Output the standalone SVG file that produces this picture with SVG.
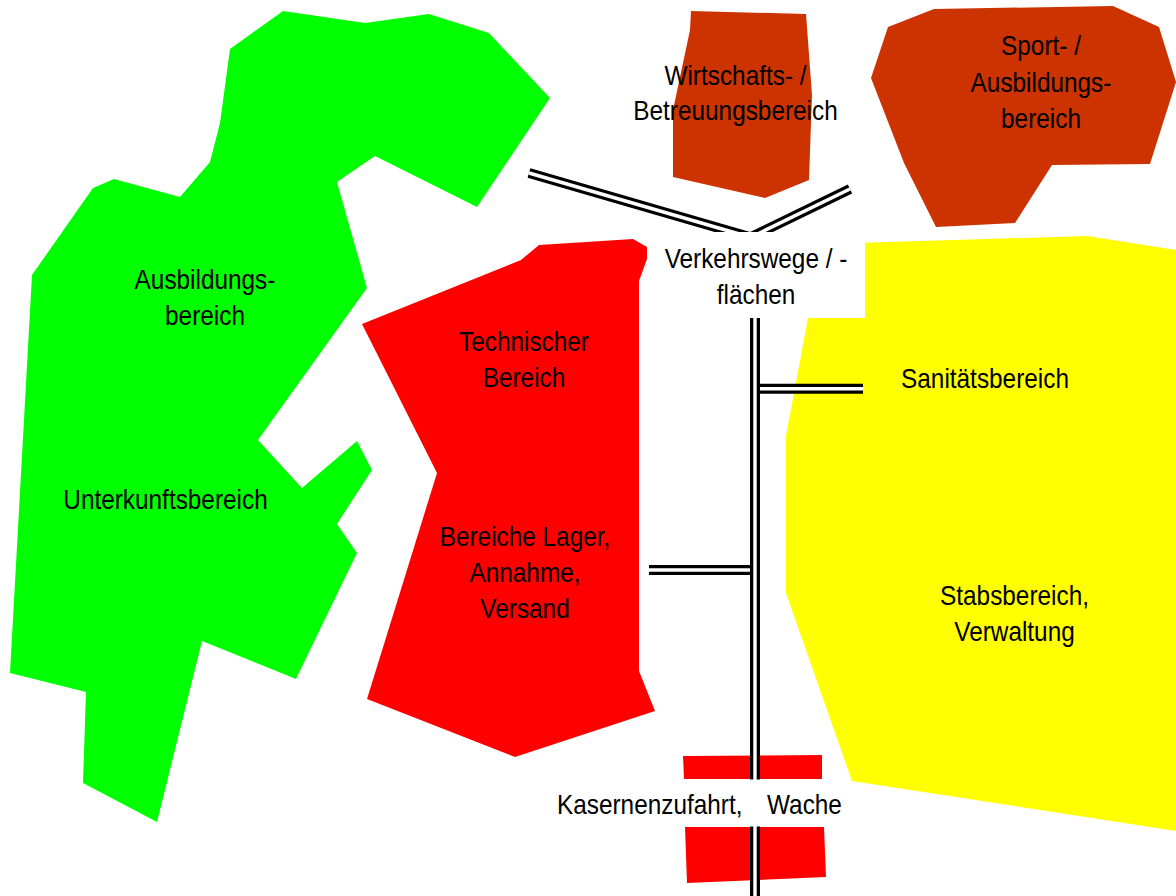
<svg xmlns="http://www.w3.org/2000/svg" width="1176" height="896" viewBox="0 0 1176 896">
<style>
  .lbl { font-family: "Liberation Sans", Arial, sans-serif; font-size: 28px; fill: #000; text-anchor: middle; }
  .lbls { font-family: "Liberation Sans", Arial, sans-serif; font-size: 28px; fill: #000; }
  .green { fill: #00FF00; }
  .red { fill: #FF0000; }
  .brown { fill: #CC3300; }
  .yellow { fill: #FFFF00; }
  .roadOuter { stroke: #000; stroke-width: 10; fill: none; stroke-linecap: butt; }
  .roadInner { stroke: #fff; stroke-width: 3.4; fill: none; stroke-linecap: butt; }
  .box { fill: #fff; }
</style>
<rect width="1176" height="896" fill="#fff"/>

<g id="unterkunft-ausbildung">
  <polygon class="green" points="283,11 365,23 429,14 489,33 550,98 477,207 375,156 337,182 367,288 258,440 302,488 357,441 372,470 337,524 357,553 296,679 202,641 157,822 83,783 86,692 10,673 32,275 93,188 114,179 180,197 210,162 220,123 230,49"/>
  <text class="lbl" transform="matrix(0.87,0,0,1,205,0)"><tspan x="0" y="289">Ausbildungs-</tspan><tspan x="0" y="325">bereich</tspan></text>
  <text class="lbl" transform="matrix(0.87,0,0,1,165.5,0)"><tspan x="0" y="509">Unterkunftsbereich</tspan></text>
</g>

<g id="technischer-bereich">
  <polygon class="red" points="539,245 633,239 647,247 647,259 639,281 639,671 655,711 515,757 367,699 437,473 362,324 521,260"/>
  <text class="lbl" transform="matrix(0.87,0,0,1,524,0)"><tspan x="0" y="351">Technischer</tspan><tspan x="0" y="387">Bereich</tspan></text>
  <text class="lbl" transform="matrix(0.87,0,0,1,525,0)"><tspan x="0" y="546">Bereiche Lager,</tspan><tspan x="0" y="582">Annahme,</tspan><tspan x="0" y="618">Versand</tspan></text>
</g>

<g id="wirtschaftsbereich">
  <polygon class="brown" points="691,11 806,14 812,95 809,180 765,198 673,177 673,110 690,30"/>
  <text class="lbl" transform="matrix(0.87,0,0,1,735.5,0)"><tspan x="0" y="85">Wirtschafts- /</tspan><tspan x="0" y="120">Betreuungsbereich</tspan></text>
</g>

<g id="sportbereich">
  <polygon class="brown" points="934,9 1113,6 1159,27 1176,82 1150,164 1052,165 1015,223 936,227 904,163 871,78 888,27"/>
  <text class="lbl" transform="matrix(0.87,0,0,1,1041,0)"><tspan x="0" y="55">Sport- /</tspan><tspan x="0" y="92">Ausbildungs-</tspan><tspan x="0" y="128">bereich</tspan></text>
</g>

<g id="stabsbereich">
  <polygon class="yellow" points="824,244 1087,236 1176,250 1176,831 852,781 786,593 786,436 808,318"/>
</g>

<g id="kasernenzufahrt-rects">
  <polygon class="red" points="683,756 822,755 822,779 684,779"/>
  <polygon class="red" points="685,827 824,827 826,877 687,883"/>
</g>

<g id="connectors">
  <line class="roadOuter" x1="529" y1="173" x2="760" y2="240"/>
  <line class="roadInner" x1="529" y1="173" x2="760" y2="240"/>
  <line class="roadOuter" x1="850" y1="189" x2="745" y2="240"/>
  <line class="roadInner" x1="850" y1="189" x2="745" y2="240"/>
  <line class="roadOuter" x1="649" y1="570" x2="755" y2="570"/>
  <line class="roadInner" x1="649" y1="570" x2="755" y2="570"/>
  <line class="roadOuter" x1="755" y1="388.8" x2="863" y2="388.8"/>
  <line class="roadInner" x1="755" y1="388.8" x2="863" y2="388.8"/>
  <line class="roadOuter" x1="755" y1="300" x2="755" y2="896"/>
  <line class="roadInner" x1="755" y1="300" x2="755" y2="896"/>
</g>

<g id="verkehrswege">
  <rect class="box" x="652" y="232" width="213" height="86"/>
  <text class="lbl" transform="matrix(0.87,0,0,1,756,0)"><tspan x="0" y="268">Verkehrswege / -</tspan><tspan x="0" y="304">flächen</tspan></text>
</g>

<g id="sanitaetsbereich">
  <text class="lbl" transform="matrix(0.87,0,0,1,985,0)"><tspan x="0" y="388">Sanitätsbereich</tspan></text>
</g>

<g id="stabsbereich-label">
  <text class="lbl" transform="matrix(0.87,0,0,1,1014.5,0)"><tspan x="0" y="605">Stabsbereich,</tspan><tspan x="0" y="641">Verwaltung</tspan></text>
</g>

<g id="kasernenzufahrt">
  <rect class="box" x="550" y="779.5" width="295" height="47"/>
  <text class="lbls" transform="matrix(0.87,0,0,1,557,0)"><tspan x="0" y="814">Kasernenzufahrt,</tspan><tspan x="241.4" y="814">Wache</tspan></text>
</g>
</svg>
